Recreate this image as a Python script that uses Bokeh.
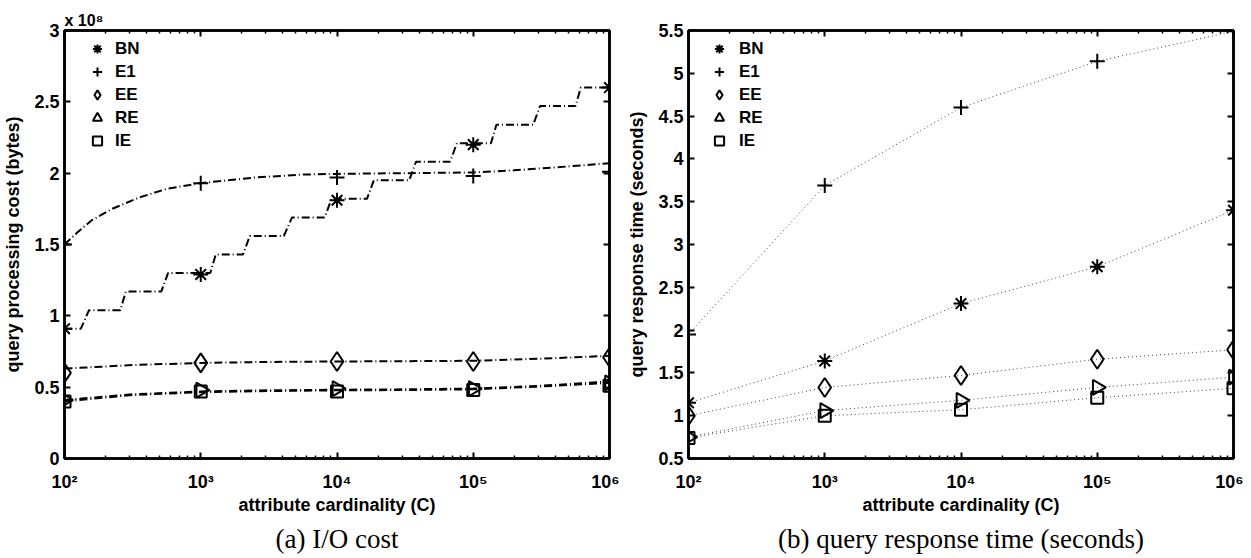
import math
from bokeh.plotting import figure
from bokeh.models import (LogAxis, LinearAxis, FixedTicker, CustomJSTickFormatter,
                          Legend, LegendItem, Title, Range1d)
from bokeh.layouts import row
from bokeh.embed import file_html
from bokeh.resources import INLINE

# ---------------- data ----------------
C = [1e2, 1e3, 1e4, 1e5, 1e6]
series_names = ["BN", "E1", "EE", "RE", "IE"]

# (a) I/O cost, units of 1e8 bytes (measured points)
io_bn = [0.91, 1.29, 1.81, 2.20, 2.60]
io_e1 = [1.50, 1.93, 1.97, 1.98, 2.01]
io_ee = [0.60, 0.67, 0.68, 0.68, 0.71]
io_re = [0.41, 0.48, 0.49, 0.49, 0.53]
io_ie = [0.40, 0.47, 0.47, 0.48, 0.51]

# (a) model curves, x given as log10(C)
bn_fit_exp = [2.00, 2.12, 2.18, 2.41, 2.45, 2.71, 2.76, 3.07, 3.11, 3.31, 3.36, 3.61, 3.67,
              3.91, 3.96, 4.22, 4.27, 4.53, 4.58, 4.83, 4.88, 5.13, 5.17, 5.44, 5.49, 5.75,
              5.79, 6.00]
bn_fit_val = [0.91, 0.91, 1.04, 1.04, 1.17, 1.17, 1.30, 1.30, 1.43, 1.43, 1.56, 1.56, 1.69,
              1.69, 1.82, 1.82, 1.95, 1.95, 2.08, 2.08, 2.21, 2.21, 2.34, 2.34, 2.47, 2.47,
              2.60, 2.60]
e1_fit_exp = [2.0, 2.1, 2.2, 2.35, 2.55, 2.75, 3.0, 3.4, 3.75, 4.0, 4.5, 5.0, 5.3, 5.6, 6.0]
e1_fit_val = [1.50, 1.59, 1.67, 1.75, 1.83, 1.89, 1.93, 1.97, 1.99, 1.995, 2.0, 2.005, 2.02, 2.04, 2.07]
low_fit_exp = [2.0, 2.5, 3.0, 3.5, 4.0, 4.5, 5.0, 5.5, 6.0]
ee_fit_val = [0.63, 0.655, 0.67, 0.677, 0.68, 0.682, 0.685, 0.70, 0.72]
re_fit_val = [0.41, 0.45, 0.47, 0.478, 0.482, 0.485, 0.49, 0.51, 0.54]
ie_fit_val = [0.40, 0.445, 0.465, 0.473, 0.478, 0.48, 0.485, 0.505, 0.53]

# (b) query response time (seconds)
rt_bn = [1.15, 1.64, 2.31, 2.74, 3.40]
rt_e1 = [1.95, 3.69, 4.60, 5.14, 5.49]
rt_ee = [1.00, 1.33, 1.47, 1.66, 1.77]
rt_re = [0.75, 1.06, 1.18, 1.33, 1.45]
rt_ie = [0.74, 1.00, 1.07, 1.21, 1.32]

yticks_a = [0, 0.5, 1, 1.5, 2, 2.5, 3]
yticks_b = [0.5, 1, 1.5, 2, 2.5, 3, 3.5, 4, 4.5, 5, 5.5]

# ---------------- styling ----------------
SANS = "Liberation Sans"
SERIF = "Liberation Serif"
xmajor = C
xminor = [k * 10 ** d for d in range(2, 6) for k in range(2, 10)]

xfmt = CustomJSTickFormatter(code="""
const sup = ["\u2070","\u00b9","\u00b2","\u00b3","\u2074","\u2075","\u2076","\u2077","\u2078","\u2079"];
const e = Math.round(Math.log10(tick));
return "10" + String(e).split("").map(d => sup[Number(d)]).join("");
""")
yfmt = CustomJSTickFormatter(code="return String(Math.round(tick*10)/10);")

MARK = {
    "BN": dict(marker="asterisk", size=15, angle=0.0),
    "E1": dict(marker="cross", size=15, angle=0.0),
    "EE": dict(marker="diamond", size=19, angle=0.0),
    "RE": dict(marker="triangle", size=15, angle=-math.pi / 2),
    "IE": dict(marker="square", size=12, angle=0.0),
}


def style_axis(ax, labels=True, minor=True):
    ax.axis_line_width = 2.5
    ax.axis_line_color = "black"
    ax.major_tick_in = 6
    ax.major_tick_out = 0
    ax.major_tick_line_width = 2
    ax.major_tick_line_color = "black"
    if minor:
        ax.minor_tick_in = 3
        ax.minor_tick_out = 0
        ax.minor_tick_line_width = 1.5
        ax.minor_tick_line_color = "black"
    else:
        ax.minor_tick_line_color = None
    if labels:
        ax.major_label_text_font = SANS
        ax.major_label_text_font_style = "bold"
        ax.major_label_text_font_size = "18px"
        ax.major_label_text_color = "black"
        ax.axis_label_text_font = SANS
        ax.axis_label_text_font_style = "bold"
        ax.axis_label_text_font_size = "18px"
        ax.axis_label_text_color = "black"
    else:
        ax.major_label_text_font_size = "1px"
        ax.major_label_text_color = None
        ax.major_label_standoff = 0


def make_panel(yr, yticks, ylabel, caption, border_left, title_text):
    p = figure(x_axis_type="log", x_range=Range1d(1e2, 1e6), y_range=Range1d(*yr),
               frame_width=545, frame_height=428,
               min_border_left=border_left, min_border_right=10,
               min_border_top=30, min_border_bottom=92,
               output_backend="svg", toolbar_location=None,
               background_fill_color="white", border_fill_color="white")
    p.xgrid.visible = False
    p.ygrid.visible = False
    p.outline_line_color = "black"
    p.outline_line_width = 2.5

    xt = FixedTicker(ticks=xmajor, minor_ticks=xminor)
    yt = FixedTicker(ticks=yticks, minor_ticks=[])

    p.xaxis.ticker = xt
    p.xaxis.formatter = xfmt
    p.xaxis.axis_label = "attribute cardinality (C)"
    p.xaxis.major_label_standoff = 13
    p.xaxis.axis_label_standoff = 0
    style_axis(p.xaxis[0], True, True)

    p.yaxis.ticker = yt
    p.yaxis.formatter = yfmt
    p.yaxis.axis_label = ylabel
    p.yaxis.major_label_standoff = 5
    p.yaxis.axis_label_standoff = 8
    style_axis(p.yaxis[0], True, False)

    top = LogAxis(ticker=xt, formatter=xfmt)
    style_axis(top, False, True)
    p.add_layout(top, "above")
    right = LinearAxis(ticker=yt, formatter=yfmt)
    style_axis(right, False, False)
    p.add_layout(right, "right")

    if title_text:
        p.title.text = title_text
        p.title.align = "left"
        p.title.text_font = SANS
        p.title.text_font_size = "16px"
        p.title.text_font_style = "bold"
        p.title.text_color = "black"
        p.title.standoff = 3

    p.add_layout(Title(text=caption, align="center", text_font=SERIF,
                       text_font_size="27px", text_font_style="normal",
                       text_color="black", standoff=8), "below")
    return p


def add_markers(p, data):
    items = []
    for name, ys in zip(series_names, data):
        m = MARK[name]
        r = p.scatter(C, ys, marker=m["marker"], size=m["size"], angle=m["angle"],
                      line_color="black", line_width=2, fill_color=None)
        items.append(LegendItem(label=name, renderers=[r]))
    return items


def add_legend(p, items, x, standoff):
    leg = Legend(items=items, location=(x, 306), padding=0, spacing=0,
                 glyph_width=30, glyph_height=23, label_standoff=standoff,
                 label_height=23,
                 label_text_font=SANS, label_text_font_style="bold",
                 label_text_font_size="17px", label_text_color="black",
                 border_line_color=None, background_fill_color=None)
    p.add_layout(leg)


# ---------------- panel (a) ----------------
pa = make_panel((0, 3), yticks_a, "query processing cost (bytes)", "(a) I/O cost",
                54, "x 10\u2078")
dashdot = "8 3 1 3"
pa.line([10 ** e for e in bn_fit_exp], bn_fit_val, line_color="black", line_width=2, line_dash=dashdot)
pa.line([10 ** e for e in e1_fit_exp], e1_fit_val, line_color="black", line_width=2, line_dash=dashdot)
for vals in (ee_fit_val, re_fit_val, ie_fit_val):
    pa.line([10 ** e for e in low_fit_exp], vals, line_color="black", line_width=2, line_dash=dashdot)
items_a = add_markers(pa, [io_bn, io_e1, io_ee, io_re, io_ie])
add_legend(pa, items_a, 18, 3)

# ---------------- panel (b) ----------------
pb = make_panel((0.5, 5.5), yticks_b, "query response time (seconds)",
                "(b) query response time (seconds)", 69, None)
for vals in (rt_bn, rt_e1, rt_ee, rt_re, rt_ie):
    pb.line(C, vals, line_color="#444444", line_width=1, line_dash="1 3")
items_b = add_markers(pb, [rt_bn, rt_e1, rt_ee, rt_re, rt_ie])
add_legend(pb, items_b, 16, 5)

layout = row(pa, pb)
open("out.html", "w", encoding="utf-8").write(file_html(layout, INLINE))
